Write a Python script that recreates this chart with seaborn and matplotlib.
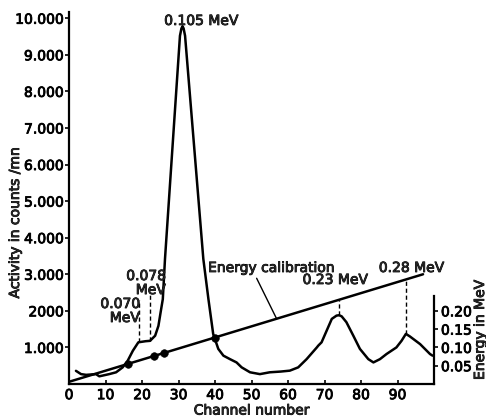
import numpy as np
import pandas as pd
import matplotlib
matplotlib.use("Agg")
import matplotlib.pyplot as plt
import matplotlib.patheffects as pe
import seaborn as sns

# Gamma spectrum: activity per channel
channels = [1.9, 3.3, 4.7, 7.4, 8.3, 9.2, 11.0, 12.9, 14.7, 16.1, 17.5, 19.0, 21.0,
            22.2, 23.6, 24.5, 25.1, 25.7, 26.3, 28.4, 30.4, 30.8, 31.1, 31.4, 31.8,
            34.3, 36.8, 38.2, 39.5, 40.9, 42.3, 44.1, 45.9, 47.3, 49.6, 52.3, 55.0,
            58.0, 60.5, 62.8, 65.1, 67.9, 68.3, 69.2, 70.6, 72.0, 73.3, 74.0, 74.7,
            76.0, 77.9, 79.7, 82.0, 83.4, 85.2, 87.0, 89.7, 91.1, 92.3, 93.4, 96.2,
            98.9, 99.6]
counts = [360, 270, 250, 270, 210, 230, 270, 320, 455, 640, 910, 1140, 1170,
          1180, 1320, 1590, 1960, 2320, 3420, 6545, 9520, 9720, 9780, 9720, 9520,
          6470, 3420, 2320, 1370, 960, 775, 680, 590, 455, 320, 270, 320,
          340, 365, 455, 680, 1000, 1050, 1140, 1460, 1780, 1870, 1880, 1850,
          1690, 1320, 960, 680, 590, 680, 820, 1000, 1180, 1370, 1300, 1090,
          820, 775]

# Energy calibration (MeV versus channel)
calib_line_channels = [0, 97]
calib_line_energy = [0.006, 0.300]
calib_point_channels = [16.3, 23.3, 26.1, 40.0]
calib_point_energy = [0.0554, 0.0766, 0.0851, 0.127]

# Identified lines: channel, activity at the curve, top of the marker line
line_labels = ["0.070\nMeV", "0.078\nMeV", "0.105 MeV", "0.23 MeV", "0.28 MeV"]
line_channels = [19.2, 22.2, 74.0, 92.3]
line_counts = [1140, 1180, 1880, 1370]
line_top_counts = [2300, 2490, 2300, 2857]

count_ticks = [1000, 2000, 3000, 4000, 5000, 6000, 7000, 8000, 9000, 10000]
count_tick_labels = ["1.000", "2000", "3.000", "4.000", "5.000", "6.000",
                     "7.000", "8.000", "9.000", "10.000"]
energy_ticks = [0.05, 0.10, 0.15, 0.20]
energy_tick_labels = ["0.05", "0.10", "0.15", "0.20"]
channel_ticks = [0, 10, 20, 30, 40, 50, 60, 70, 80, 90]

sns.set_theme(style="ticks")
plt.rcParams["font.family"] = ["DejaVu Sans"]
plt.rcParams["font.size"] = 10

W, H = 486, 418
fig = plt.figure(figsize=(W / 100, H / 100), dpi=100)
ax = fig.add_axes([69 / W, 1 - 384 / H, 365 / W, 372 / H])
ax2 = ax.twinx()

YMAX = 10170
ax.set_xlim(0, 100)
ax.set_ylim(0, YMAX)
ax2.set_ylim(0, YMAX / 10000)

spec = pd.DataFrame({"channel": channels, "counts": counts})
sns.lineplot(data=spec, x="channel", y="counts", ax=ax, color="black",
             lw=1.8, sort=False, estimator=None)

calib = pd.DataFrame({"channel": calib_line_channels, "energy": calib_line_energy})
sns.lineplot(data=calib, x="channel", y="energy", ax=ax2, color="black",
             lw=1.8, estimator=None)
pts = pd.DataFrame({"channel": calib_point_channels, "energy": calib_point_energy})
sns.scatterplot(data=pts, x="channel", y="energy", ax=ax2, color="black",
                s=30, edgecolor="black", zorder=5)

# dashed markers from the spectrum to the labels / calibration line
for c, lo, hi in zip(line_channels, line_counts, line_top_counts):
    ax.plot([c, c], [lo, hi], color="black", lw=1.0, ls=(0, (3, 2)))

ax.text(14.0, 1996, line_labels[0], ha="center", va="center",
        multialignment="right", linespacing=1.0)
ax.text(21.1, 2760, line_labels[1], ha="center", va="center",
        multialignment="right", linespacing=1.0)
ax.text(36.2, 9926, line_labels[2], ha="center", va="center")
ax.text(72.9, 2844, line_labels[3], ha="center", va="center")
ax.text(93.8, 3172, line_labels[4], ha="center", va="center")

ax.annotate("Energy calibration", xy=(56.9, 1780), xytext=(38.1, 3172),
            ha="left", va="center",
            arrowprops=dict(arrowstyle="-", color="black", lw=1.0,
                            shrinkA=0, shrinkB=0,
                            relpos=(0.37, 0.0)))

# axes styling
for s in ["top", "right"]:
    ax.spines[s].set_visible(False)
for s in ["top", "left", "bottom"]:
    ax2.spines[s].set_visible(False)
for sp in [ax.spines["left"], ax.spines["bottom"], ax2.spines["right"]]:
    sp.set_linewidth(1.6)
    sp.set_color("black")
ax2.spines["right"].set_bounds(0, 0.24)

ax.set_xticks(channel_ticks)
ax.set_xticklabels([str(t) for t in channel_ticks])
ax.set_yticks(count_ticks)
ax.set_yticklabels(count_tick_labels)
ax2.set_yticks(energy_ticks)
ax2.set_yticklabels(energy_tick_labels)

ax.tick_params(axis="x", direction="in", length=3, width=1.2, pad=3,
               labelsize=10, colors="black")
ax.tick_params(axis="y", direction="out", length=3, width=1.2, pad=1,
               labelsize=10, colors="black")
ax2.tick_params(axis="y", direction="out", length=3, width=1.2, pad=2,
                labelsize=10, colors="black")

ax.set_xlabel("Channel number", fontsize=10, labelpad=1)
ax.set_ylabel("")
ax2.set_ylabel("")
fig.text(15 / W, 1 - 223 / H, "Activity in counts /mn", rotation=90,
         ha="center", va="center", fontsize=10)
fig.text(480 / W, 1 - 330 / H, "Energy in MeV", rotation=90,
         ha="center", va="center", fontsize=10)

# heavier print-style lettering
thick = [pe.withStroke(linewidth=0.6, foreground="black")]
for t in fig.findobj(matplotlib.text.Text):
    if t.get_text():
        t.set_path_effects(thick)

fig.savefig("out.png", dpi=100)
